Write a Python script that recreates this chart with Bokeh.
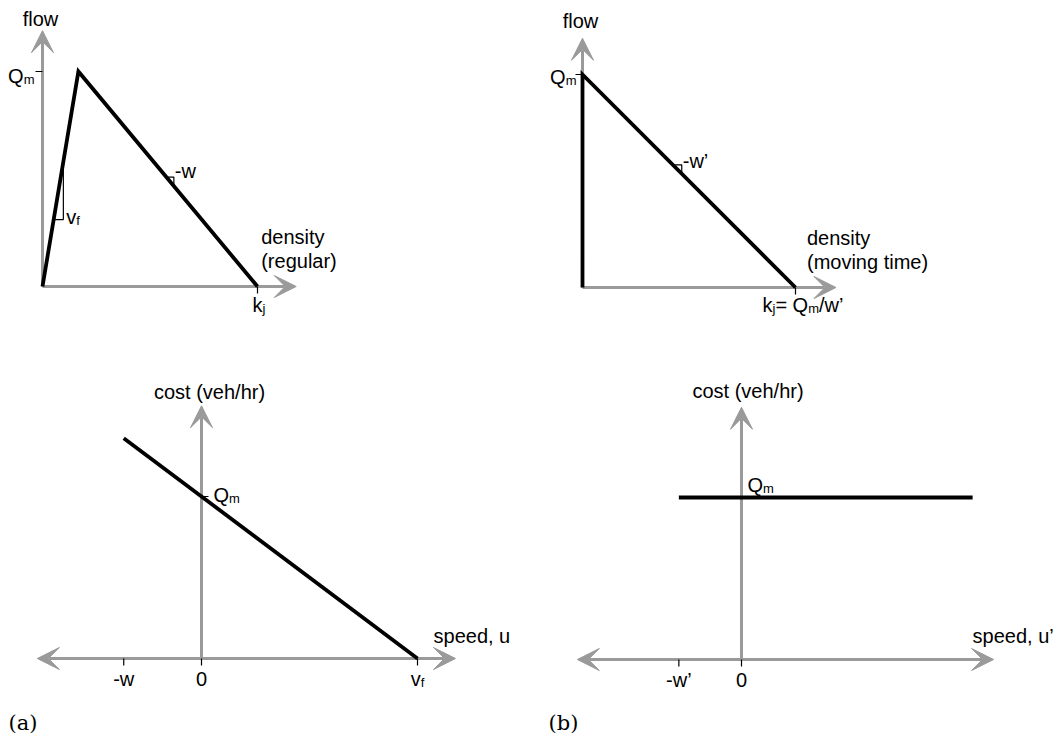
from bokeh.plotting import figure
from bokeh.models import Range1d, Arrow, VeeHead
from bokeh.core.properties import value
from bokeh.embed import file_html
from bokeh.resources import INLINE

W, H = 1056, 735
GRAY = "#9a9a9a"
INK = "#000000"
SANS = "Liberation Sans"
SERIF = "DejaVu Serif"
FS = 20        # label size, px
SUB = 13       # subscript size, px
SUB_DROP = 4   # subscript baseline drop, px
TICK = 7       # tick mark length, px

# ---- (a) regular fundamental diagram, normalised so that Qm = 1 and kj = 1
regular_density = [0.0, 0.167, 1.0]      # origin, critical density, jam density kj
regular_flow = [0.0, 1.0, 0.0]           # 0, capacity Qm, 0
# ---- (b) the same road seen in moving time
moving_density = [0.0, 0.0, 1.0]         # kj = Qm / w'
moving_flow = [0.0, 1.0, 0.0]
# ---- (a) cost (veh/hr) against observer speed u
regular_speed = [-0.36, 1.0]             # -w, vf
regular_cost = [1.36, 0.0]
regular_speed_ticks = [-0.36, 0.0, 1.0]
# ---- (b) cost against speed u'
moving_speed = [-0.29, 1.07]
moving_cost = [1.0, 1.0]
moving_speed_ticks = [-0.29, 0.0]
capacity = 1.0                           # Qm
jam_density = 1.0                        # kj

# slope markers: density interval of each small right triangle
vf_marker = [0.052, 0.097]
w_marker = [0.576, 0.611]
w_moving_marker = [0.424, 0.466]

# Panel placement: axis origin on the canvas (px from top-left) and px per unit
PANELS = {
    "reg_fd": (42, 286, 215, 215),
    "mov_fd": (582, 287, 213, 213),
    "reg_cost": (201, 658, 216, 162),
    "mov_cost": (741, 659, 216, 162),
}
# axis extents (data units): (x_min, x_max, y_max)
AXES = {
    "reg_fd": (0.0, 1.18, 1.19),
    "mov_fd": (0.0, 1.19, 1.17),
    "reg_cost": (-0.76, 1.176, 1.56),
    "mov_cost": (-0.76, 1.167, 1.557),
}

p = figure(width=W, height=H, x_range=Range1d(0, W), y_range=Range1d(0, H),
           output_backend="svg", toolbar_location=None, min_border=0,
           x_axis_location=None, y_axis_location=None, outline_line_color=None,
           background_fill_color="white", border_fill_color="white")
p.grid.visible = False

for name, (ox, oy, sx, sy) in PANELS.items():
    p.extra_x_ranges[name] = Range1d(-ox / sx, (W - ox) / sx)
    p.extra_y_ranges[name] = Range1d(-(H - oy) / sy, oy / sy)


def head():
    return VeeHead(size=22, fill_color=GRAY, line_color=GRAY, line_width=1)


def axis_arrow(name, x0, y0, x1, y1, both=False):
    p.add_layout(Arrow(start=head() if both else None, end=head(),
                       x_start=x0, y_start=y0, x_end=x1, y_end=y1,
                       line_color=GRAY, line_width=3, level="underlay",
                       x_range_name=name, y_range_name=name))


def curve(name, xs, ys, width=3.8):
    p.line(xs, ys, line_color=INK, line_width=width, line_join="miter",
           x_range_name=name, y_range_name=name)


def thin(name, xs, ys):
    p.line(xs, ys, line_color=INK, line_width=1.2,
           x_range_name=name, y_range_name=name)


def interp(x, xs, ys):
    for i in range(len(xs) - 1):
        if xs[i] <= x <= xs[i + 1] and xs[i + 1] > xs[i]:
            t = (x - xs[i]) / (xs[i + 1] - xs[i])
            return ys[i] + t * (ys[i + 1] - ys[i])
    return ys[-1]


# advance widths of Liberation Sans, in em
EM = {"a": .556, "b": .556, "c": .5, "d": .556, "e": .556, "f": .278, "g": .556,
      "h": .556, "i": .222, "j": .222, "k": .5, "l": .222, "m": .833, "n": .556,
      "o": .556, "p": .556, "q": .556, "r": .333, "s": .5, "t": .278, "u": .556,
      "v": .5, "w": .722, "x": .5, "y": .5, "z": .5, "Q": .778, "0": .556,
      "(": .333, ")": .333, ",": .278, " ": .278, "/": .278, "-": .333, "=": .584,
      "\u2019": .222}


def label(name, x, y, parts, dx=0, dy=0, align="left", font=SANS, size=FS):
    sizes = [SUB if sub else size for _, sub in parts]
    widths = [sum(EM.get(c, 0.55) for c in t) * s for (t, _), s in zip(parts, sizes)]
    total = sum(widths)
    cursor = dx - {"left": 0, "center": total / 2, "right": total}[align]
    for (t, sub), s, w in zip(parts, sizes, widths):
        p.text(x=[x], y=[y], text=[t], x_offset=cursor,
               y_offset=dy + (SUB_DROP if sub else 0),
               text_font=value(font), text_font_size=f"{s}px", text_color=INK,
               text_align="left", text_baseline="alphabetic",
               x_range_name=name, y_range_name=name)
        cursor += w


def hticks(name, xs):
    sy = PANELS[name][3]
    for x in xs:
        thin(name, [x, x], [0, -TICK / sy])


# ---------------- axes
for name, (xmin, xmax, ymax) in AXES.items():
    axis_arrow(name, 0, 0, 0, ymax)
    axis_arrow(name, xmin, 0, xmax, 0, both=xmin < 0)

# ---------------- (a) regular fundamental diagram
n = "reg_fd"
curve(n, regular_density, regular_flow)
q0 = interp(vf_marker[0], regular_density, regular_flow)
thin(n, [vf_marker[0], vf_marker[1], vf_marker[1]],
     [q0, q0, interp(vf_marker[1], regular_density, regular_flow)])
q0 = interp(w_marker[0], regular_density, regular_flow)
thin(n, [w_marker[0], w_marker[1], w_marker[1]],
     [q0, q0, interp(w_marker[1], regular_density, regular_flow)])
thin(n, [-TICK / PANELS[n][2], 0], [capacity, capacity])
hticks(n, [jam_density])
label(n, 0, AXES[n][2], [("flow", 0)], dx=-2, dy=-12, align="center")
label(n, 0, capacity, [("Q", 0), ("m", 1)], dx=-8, dy=4, align="right")
label(n, vf_marker[1], interp(vf_marker[0], regular_density, regular_flow),
      [("v", 0), ("f", 1)], dx=3, dy=-3)
label(n, w_marker[1], interp(w_marker[0], regular_density, regular_flow),
      [("-w", 0)], dx=1, dy=-6)
label(n, AXES[n][1], 0, [("density", 0)], dx=-35, dy=-50)
label(n, AXES[n][1], 0, [("(regular)", 0)], dx=-35, dy=-26)
label(n, jam_density, 0, [("k", 0), ("j", 1)], dx=-5, dy=18)

# ---------------- (b) moving-time fundamental diagram
n = "mov_fd"
curve(n, moving_density, moving_flow)
q0 = interp(w_moving_marker[0], moving_density[1:], moving_flow[1:])
thin(n, [w_moving_marker[0], w_moving_marker[1], w_moving_marker[1]],
     [q0, q0, interp(w_moving_marker[1], moving_density[1:], moving_flow[1:])])
thin(n, [-TICK / PANELS[n][2], 0], [capacity, capacity])
hticks(n, [jam_density])
label(n, 0, AXES[n][2], [("flow", 0)], dx=-2, dy=-17, align="center")
label(n, 0, capacity, [("Q", 0), ("m", 1)], dx=-6, dy=2, align="right")
label(n, w_moving_marker[1], q0, [("-w\u2019", 0)], dx=1, dy=-4)
label(n, AXES[n][1], 0, [("density", 0)], dx=-29, dy=-50)
label(n, AXES[n][1], 0, [("(moving time)", 0)], dx=-29, dy=-26)
label(n, jam_density, 0, [("k", 0), ("j", 1), ("= Q", 0), ("m", 1), ("/w\u2019", 0)],
      dx=-33, dy=17)

# ---------------- (a) cost against speed
n = "reg_cost"
curve(n, regular_speed, regular_cost)
hticks(n, regular_speed_ticks)
thin(n, [0, TICK / PANELS[n][2]], [capacity, capacity])
label(n, 0, AXES[n][2], [("cost (veh/hr)", 0)], dx=8, dy=-14, align="center")
label(n, 0, capacity, [("Q", 0), ("m", 1)], dx=12, dy=-2)
label(n, AXES[n][1], 0, [("speed, u", 0)], dx=-22, dy=-23)
for x, parts in zip(regular_speed_ticks, [[("-w", 0)], [("0", 0)], [("v", 0), ("f", 1)]]):
    label(n, x, 0, parts, dy=20, align="center")

# ---------------- (b) cost against speed
n = "mov_cost"
curve(n, moving_speed, moving_cost)
hticks(n, moving_speed_ticks)
label(n, 0, AXES[n][2], [("cost (veh/hr)", 0)], dx=6.5, dy=-16, align="center")
label(n, 0, capacity, [("Q", 0), ("m", 1)], dx=6, dy=-13)
label(n, AXES[n][1], 0, [("speed, u\u2019", 0)], dx=-21, dy=-24)
for x, parts in zip(moving_speed_ticks, [[("-w\u2019", 0)], [("0", 0)]]):
    label(n, x, 0, parts, dy=20, align="center")

# ---------------- panel captions
p.text(x=[8, 548], y=[H - 722, H - 722], text=["(a)", "(b)"],
       text_font=value(SERIF), text_font_size="21px", text_color=INK,
       text_align="left", text_baseline="alphabetic")

open("out.html", "w").write(file_html(p, INLINE))
